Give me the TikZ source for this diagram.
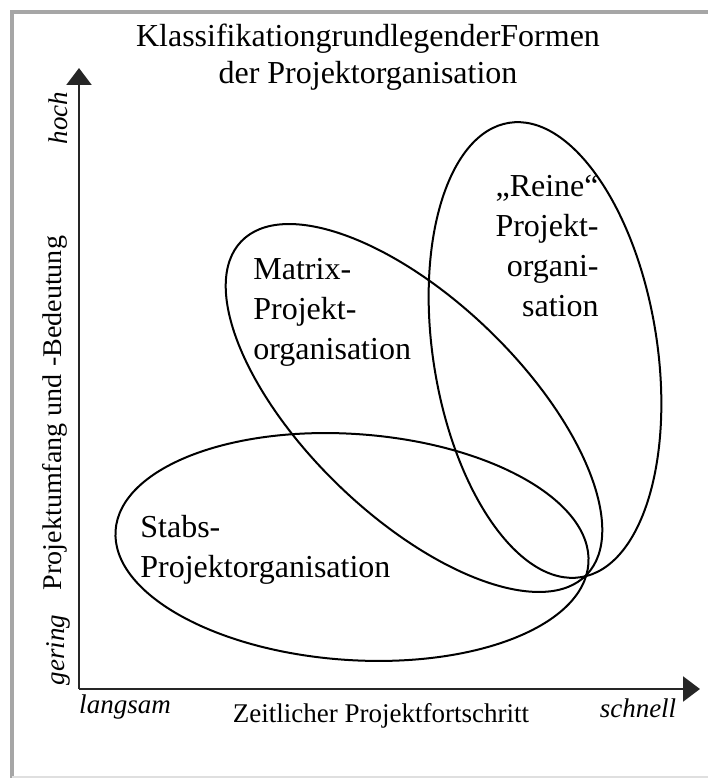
\documentclass[tikz,border=0pt]{standalone}
\usepackage{fontspec}
\setmainfont{Liberation Serif}
\usepackage{tikz}
\usetikzlibrary{arrows.meta, positioning}

\begin{document}
\begin{tikzpicture}[x=0.5pt, y=0.5pt,
    orglabel/.style={inner sep=0pt, font=\fontsize{16pt}{20pt}\selectfont},
    axlabel/.style={inner sep=0pt, font=\fontsize{13.5pt}{16pt}\selectfont},
    orgbound/.style={draw=black, line width=1pt},
    axis/.style={draw=black!85, line width=1.1pt, -{Triangle[length=8.5pt, width=12.5pt]}}]
    \useasboundingbox (0,0) rectangle (708,778);
    % frame
    \draw[gray!70, line width=2pt] (12,0) -- (12,766) -- (708,766);
    \draw[gray!25, line width=0.8pt] (12,1) -- (708,1);
    % title
    \node (title) [align=center, font=\fontsize{16pt}{18.5pt}\selectfont] at (368,721)
      {KlassifikationgrundlegenderFormen\\der Projektorganisation};
    % axes
    \coordinate (origin) at (79,89);
    \coordinate (ytip) at (79,710);
    \coordinate (xtip) at (700,89);
    \draw[axis] (origin) -- (ytip);
    \draw[axis] (origin) -- (xtip);
    \node (hoch) [axlabel, rotate=90, font=\fontsize{13.5pt}{16pt}\itshape] at (58,660) {hoch};
    \node (gering) [axlabel, rotate=90, font=\fontsize{13.5pt}{16pt}\itshape] at (58,128) {gering};
    \node (umfang) [axlabel, rotate=90, xscale=1.04] at (55,365) {Projektumfang und -Bedeutung};
    \node (langsam) [axlabel, font=\fontsize{13.5pt}{16pt}\itshape] at (125,71) {langsam};
    \node (schnell) [axlabel, font=\fontsize{13.5pt}{16pt}\itshape] at (638,70) {schnell};
    \node (zeit) [axlabel] at (381,62) {Zeitlicher Projektfortschritt};
    % ellipses
    \draw[orgbound, rotate around={-4:(352,231)}] (352,231) ellipse [x radius=237, y radius=113];
    \draw[orgbound, rotate around={-44:(414,370)}] (414,370) ellipse [x radius=240, y radius=108];
    \draw[orgbound, rotate around={9:(545,428)}] (545,428) ellipse [x radius=112, y radius=230];
    % labels
    \node (stabs) [orglabel, anchor=west, align=left] at (140,228)
      {Stabs-\\Projektorganisation};
    \node (matrix) [orglabel, anchor=west, align=left] at (253,466)
      {Matrix-\\Projekt-\\organisation};
    \node (reine) [orglabel, anchor=east, align=right] at (599,532)
      {„Reine“\\Projekt-\\organi-\\sation};
\end{tikzpicture}
\end{document}
